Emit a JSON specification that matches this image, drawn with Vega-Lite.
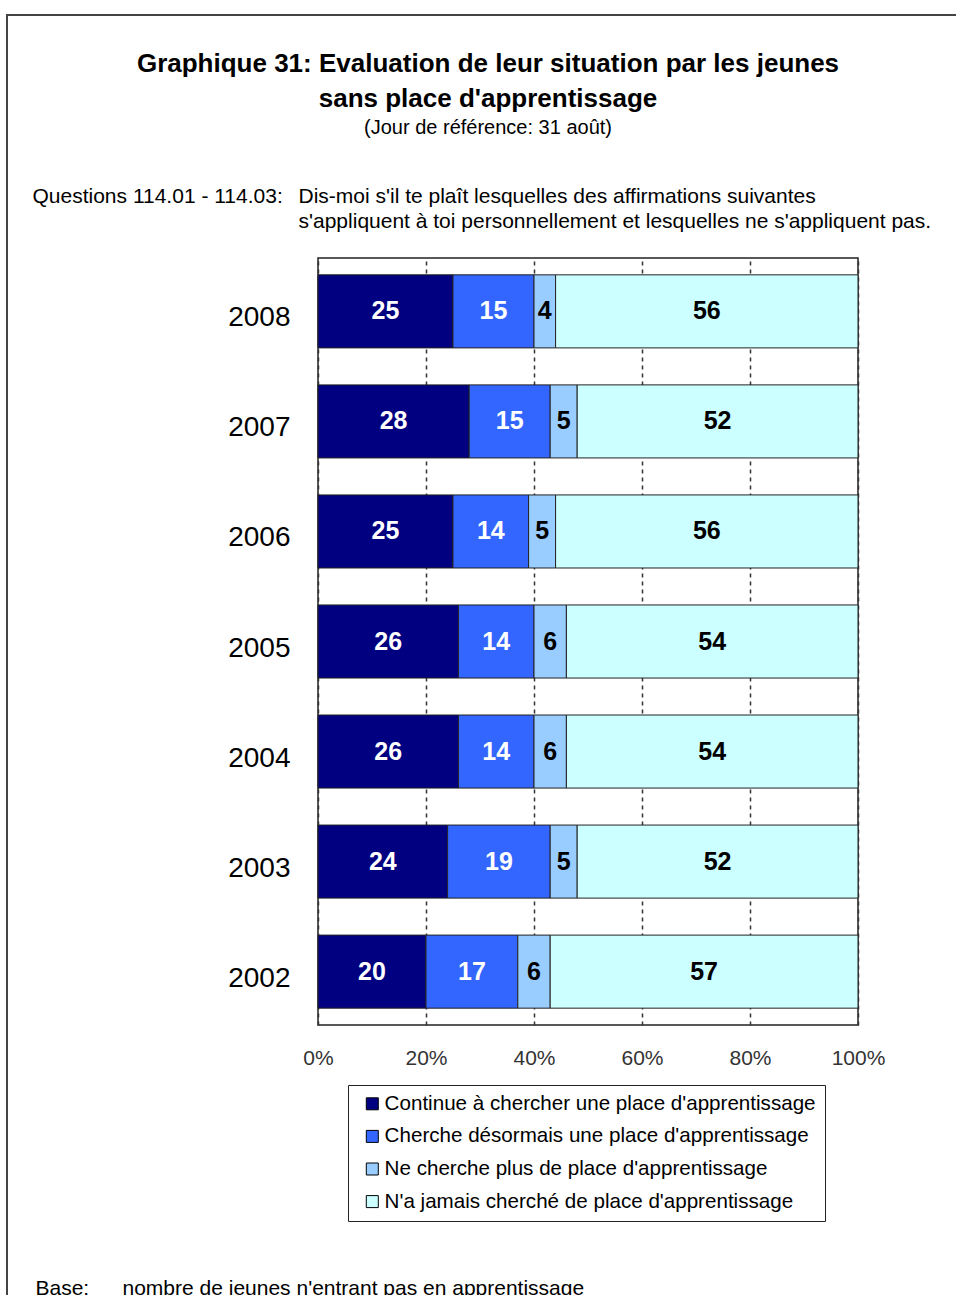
{
  "$schema": "https://vega.github.io/schema/vega-lite/v6.json",
  "width": 540,
  "height": 767,
  "autosize": {"type": "none"},
  "padding": {"left": 318, "top": 258, "right": 98, "bottom": 270},
  "background": "white",
  "config": {
    "font": "Liberation Sans",
    "view": {"stroke": "#222", "strokeWidth": 1.5}
  },
  "title": {
    "text": ["Graphique 31: Evaluation de leur situation par les jeunes", "sans place d'apprentissage"],
    "subtitle": "(Jour de référence: 31 août)",
    "anchor": "middle",
    "frame": "group",
    "dx": -100,
    "offset": -124,
    "font": "Liberation Sans",
    "fontSize": 26,
    "fontWeight": "bold",
    "lineHeight": 35,
    "color": "black",
    "subtitleFont": "Liberation Sans",
    "subtitleFontSize": 20,
    "subtitleColor": "black",
    "subtitlePadding": 6
  },
  "data": {
    "values": [
      {"year": "2008", "cat": "Continue à chercher une place d'apprentissage", "k": 1, "value": 25},
      {"year": "2008", "cat": "Cherche désormais une place d'apprentissage", "k": 2, "value": 15},
      {"year": "2008", "cat": "Ne cherche plus de place d'apprentissage", "k": 3, "value": 4},
      {"year": "2008", "cat": "N'a jamais cherché de place d'apprentissage", "k": 4, "value": 56},
      {"year": "2007", "cat": "Continue à chercher une place d'apprentissage", "k": 1, "value": 28},
      {"year": "2007", "cat": "Cherche désormais une place d'apprentissage", "k": 2, "value": 15},
      {"year": "2007", "cat": "Ne cherche plus de place d'apprentissage", "k": 3, "value": 5},
      {"year": "2007", "cat": "N'a jamais cherché de place d'apprentissage", "k": 4, "value": 52},
      {"year": "2006", "cat": "Continue à chercher une place d'apprentissage", "k": 1, "value": 25},
      {"year": "2006", "cat": "Cherche désormais une place d'apprentissage", "k": 2, "value": 14},
      {"year": "2006", "cat": "Ne cherche plus de place d'apprentissage", "k": 3, "value": 5},
      {"year": "2006", "cat": "N'a jamais cherché de place d'apprentissage", "k": 4, "value": 56},
      {"year": "2005", "cat": "Continue à chercher une place d'apprentissage", "k": 1, "value": 26},
      {"year": "2005", "cat": "Cherche désormais une place d'apprentissage", "k": 2, "value": 14},
      {"year": "2005", "cat": "Ne cherche plus de place d'apprentissage", "k": 3, "value": 6},
      {"year": "2005", "cat": "N'a jamais cherché de place d'apprentissage", "k": 4, "value": 54},
      {"year": "2004", "cat": "Continue à chercher une place d'apprentissage", "k": 1, "value": 26},
      {"year": "2004", "cat": "Cherche désormais une place d'apprentissage", "k": 2, "value": 14},
      {"year": "2004", "cat": "Ne cherche plus de place d'apprentissage", "k": 3, "value": 6},
      {"year": "2004", "cat": "N'a jamais cherché de place d'apprentissage", "k": 4, "value": 54},
      {"year": "2003", "cat": "Continue à chercher une place d'apprentissage", "k": 1, "value": 24},
      {"year": "2003", "cat": "Cherche désormais une place d'apprentissage", "k": 2, "value": 19},
      {"year": "2003", "cat": "Ne cherche plus de place d'apprentissage", "k": 3, "value": 5},
      {"year": "2003", "cat": "N'a jamais cherché de place d'apprentissage", "k": 4, "value": 52},
      {"year": "2002", "cat": "Continue à chercher une place d'apprentissage", "k": 1, "value": 20},
      {"year": "2002", "cat": "Cherche désormais une place d'apprentissage", "k": 2, "value": 17},
      {"year": "2002", "cat": "Ne cherche plus de place d'apprentissage", "k": 3, "value": 6},
      {"year": "2002", "cat": "N'a jamais cherché de place d'apprentissage", "k": 4, "value": 57}
    ]
  },
  "layer": [
    {
      "data": {"values": [{"frame": "outer"}]},
      "mark": {"type": "rect", "fill": null, "stroke": "#444", "strokeWidth": 2},
      "encoding": {
        "x": {"value": -311},
        "x2": {"value": 660},
        "y": {"value": -243},
        "y2": {"value": 1060}
      }
    },
    {
      "mark": {"type": "bar", "stroke": "#222", "strokeWidth": 1},
      "encoding": {
        "y": {
          "field": "year",
          "type": "nominal",
          "scale": {"domain": ["2008", "2007", "2006", "2005", "2004", "2003", "2002"], "paddingInner": 0.336, "paddingOuter": 0.153},
          "axis": {
            "orient": "left",
            "ticks": false,
            "tickSize": 0,
            "domain": false,
            "labelFontSize": 28,
            "labelColor": "black",
            "labelPadding": 28,
            "labelOffset": 7,
            "title": "Base:",
            "titleAngle": 0,
            "titleX": -283,
            "titleY": 1019,
            "titleAlign": "left",
            "titleBaseline": "top",
            "titleFontSize": 21,
            "titleFontWeight": "normal",
            "titleColor": "black"
          }
        },
        "x": {
          "field": "value",
          "type": "quantitative",
          "stack": "zero",
          "scale": {"domain": [0, 100], "nice": false},
          "axis": {
            "orient": "bottom",
            "values": [0, 20, 40, 60, 80, 100],
            "labelExpr": "datum.value + '%'",
            "grid": true,
            "gridDash": [4, 4],
            "gridColor": "#333",
            "gridWidth": 1.5,
            "ticks": false,
            "tickSize": 0,
            "domain": false,
            "labelFontSize": 21,
            "labelColor": "#333",
            "labelPadding": 22,
            "labelFlush": false,
            "title": "nombre de jeunes n'entrant pas en apprentissage",
            "titleX": -196,
            "titleY": 252,
            "titleAlign": "left",
            "titleBaseline": "top",
            "titleFontSize": 21,
            "titleFontWeight": "normal",
            "titleColor": "black"
          }
        },
        "color": {
          "field": "cat",
          "type": "nominal",
          "scale": {
            "domain": ["Continue à chercher une place d'apprentissage", "Cherche désormais une place d'apprentissage", "Ne cherche plus de place d'apprentissage", "N'a jamais cherché de place d'apprentissage"],
            "range": ["#000080", "#3366FF", "#99CCFF", "#CCFFFF"]
          },
          "legend": {
            "orient": "none",
            "legendX": 30,
            "legendY": 827,
            "title": null,
            "direction": "vertical",
            "strokeColor": "#222",
            "fillColor": "white",
            "padding": 8.5,
            "symbolType": "square",
            "symbolSize": 144,
            "symbolStrokeColor": "#000",
            "symbolStrokeWidth": 1,
            "symbolOffset": 5.5,
            "labelFontSize": 20.6,
            "labelColor": "black",
            "labelOffset": 2,
            "rowPadding": 11.6,
            "labelLimit": 700
          }
        },
        "order": {"field": "k", "type": "quantitative"}
      }
    },
    {
      "mark": {"type": "text", "fontSize": 25, "fontWeight": "bold", "baseline": "middle", "align": "center"},
      "encoding": {
        "y": {
          "field": "year",
          "type": "nominal",
          "axis": {
            "orient": "right",
            "labels": false,
            "ticks": false,
            "domain": false,
            "grid": false,
            "title": ["Dis-moi s'il te plaît lesquelles des affirmations suivantes", "s'appliquent à toi personnellement et lesquelles ne s'appliquent pas."],
            "titleAngle": 0,
            "titleX": -560,
            "titleY": -73,
            "titleAlign": "left",
            "titleBaseline": "top",
            "titleLineHeight": 25,
            "titleFontSize": 21,
            "titleFontWeight": "normal",
            "titleColor": "black"
          }
        },
        "x": {
          "field": "value",
          "type": "quantitative",
          "stack": "zero",
          "bandPosition": 0.5,
          "axis": {
            "orient": "top",
            "labels": false,
            "ticks": false,
            "domain": false,
            "grid": false,
            "title": "Questions 114.01 - 114.03:",
            "titleX": -286,
            "titleY": -73,
            "titleAlign": "left",
            "titleBaseline": "top",
            "titleFontSize": 21,
            "titleFontWeight": "normal",
            "titleColor": "black"
          }
        },
        "detail": {"field": "cat", "type": "nominal"},
        "order": {"field": "k", "type": "quantitative"},
        "text": {"field": "value", "type": "quantitative"},
        "color": {"condition": {"test": "datum.k <= 2", "value": "white"}, "value": "black"}
      }
    }
  ],
  "resolve": {"axis": {"x": "independent", "y": "independent"}}
}
